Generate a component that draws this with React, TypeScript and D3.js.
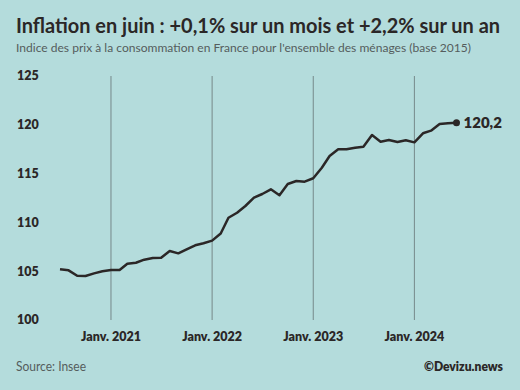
import React, { useEffect, useRef } from "react";
import * as d3 from "d3";

// indice des prix à la consommation, juillet 2020 -> juin 2024 (base 2015)
const startMonth = "2020-07";
const cpiValues = [
  105.19, 105.09, 104.54, 104.51, 104.78, 104.99,
  105.12, 105.12, 105.77, 105.87, 106.18, 106.35,
  106.38, 107.07, 106.83, 107.24, 107.65, 107.86,
  108.13, 108.86, 110.48, 110.99, 111.68, 112.53,
  112.91, 113.39, 112.78, 113.93, 114.24, 114.17,
  114.52, 115.6, 116.8, 117.49, 117.49, 117.65,
  117.76, 118.95, 118.27, 118.44, 118.24, 118.41,
  118.2, 119.13, 119.4, 120.08, 120.15, 120.2,
];
const yTicks = [100, 105, 110, 115, 120, 125];
const xTickYears = [2021, 2022, 2023, 2024];
const lastLabel = "120,2";

const title = "Inflation en juin : +0,1% sur un mois et +2,2% sur un an";
const subtitle = "Indice des prix à la consommation en France pour l'ensemble des ménages (base 2015)";
const source = "Source: Insee";
const credit = "©Devizu.news";

export default function App() {
  const ref = useRef<SVGSVGElement>(null);

  useEffect(() => {
    const w = 520, h = 390;
    const svg = d3.select(ref.current);
    svg.selectAll("*").remove();

    const font = "Lato, 'Open Sans', sans-serif";
    const dark = "#2b2727";
    const grey = "#555d5d";

    svg.append("rect").attr("width", w).attr("height", h).attr("fill", "#b4dcdc");

    const [sy, sm] = startMonth.split("-").map(Number);
    const data = cpiValues.map((v, i) => ({ date: new Date(sy, sm - 1 + i, 1), value: v }));

    const x = d3
      .scaleTime()
      .domain([data[0].date, data[data.length - 1].date])
      .range([60, 456.5]);

    const y = d3.scaleLinear().domain([100, 125]).range([320, 76]);

    // titles (widths forced to match the original layout)
    svg.append("text")
      .attr("x", 16).attr("y", 33)
      .attr("font-family", font).attr("font-weight", 700).attr("font-size", 20)
      .attr("textLength", 484).attr("lengthAdjust", "spacingAndGlyphs")
      .attr("fill", dark)
      .text(title);

    svg.append("text")
      .attr("x", 16).attr("y", 52)
      .attr("font-family", font).attr("font-size", 12)
      .attr("textLength", 455).attr("lengthAdjust", "spacingAndGlyphs")
      .attr("fill", grey)
      .text(subtitle);

    // y labels
    svg.selectAll(".ylab")
      .data(yTicks)
      .join("text")
      .attr("class", "ylab")
      .attr("x", 17)
      .attr("y", (d) => y(d))
      .attr("dy", "0.35em")
      .attr("font-family", font).attr("font-weight", 800).attr("font-size", 12.5)
      .attr("fill", dark)
      .text((d) => d);

    // vertical lines for january
    const janv = xTickYears.map((yr) => new Date(yr, 0, 1));
    svg.selectAll(".vline")
      .data(janv)
      .join("line")
      .attr("class", "vline")
      .attr("x1", (d) => x(d)).attr("x2", (d) => x(d))
      .attr("y1", y(125)).attr("y2", y(100))
      .attr("stroke", "#76898a").attr("stroke-width", 1);

    svg.selectAll(".xlab")
      .data(janv)
      .join("text")
      .attr("class", "xlab")
      .attr("x", (d) => x(d))
      .attr("y", 341)
      .attr("text-anchor", "middle")
      .attr("font-family", font).attr("font-weight", 800).attr("font-size", 12.5)
      .attr("fill", dark)
      .text((d) => "Janv. " + d.getFullYear());

    // the line
    const line = d3.line<{ date: Date; value: number }>()
      .x((d) => x(d.date))
      .y((d) => y(d.value));

    svg.append("path")
      .datum(data)
      .attr("d", line)
      .attr("fill", "none")
      .attr("stroke", dark)
      .attr("stroke-width", 2.5)
      .attr("stroke-linejoin", "round");

    const last = data[data.length - 1];
    svg.append("circle")
      .attr("cx", x(last.date)).attr("cy", y(last.value))
      .attr("r", 3.5).attr("fill", dark);

    svg.append("text")
      .attr("x", x(last.date) + 7).attr("y", y(last.value))
      .attr("dy", "0.35em")
      .attr("font-family", font).attr("font-weight", 800).attr("font-size", 15)
      .attr("fill", dark)
      .text(lastLabel);

    // footer
    svg.append("text")
      .attr("x", 16).attr("y", 371)
      .attr("font-family", font).attr("font-size", 13.5)
      .attr("textLength", 70).attr("lengthAdjust", "spacingAndGlyphs")
      .attr("fill", grey)
      .text(source);

    svg.append("text")
      .attr("x", 424).attr("y", 371)
      .attr("font-family", font).attr("font-weight", 800).attr("font-size", 13.5)
      .attr("textLength", 79).attr("lengthAdjust", "spacingAndGlyphs")
      .attr("fill", dark)
      .text(credit);
  }, []);

  return <svg ref={ref} width={520} height={390} style={{ display: "block", position: "absolute", left: 0, top: 0 }} />;
}
